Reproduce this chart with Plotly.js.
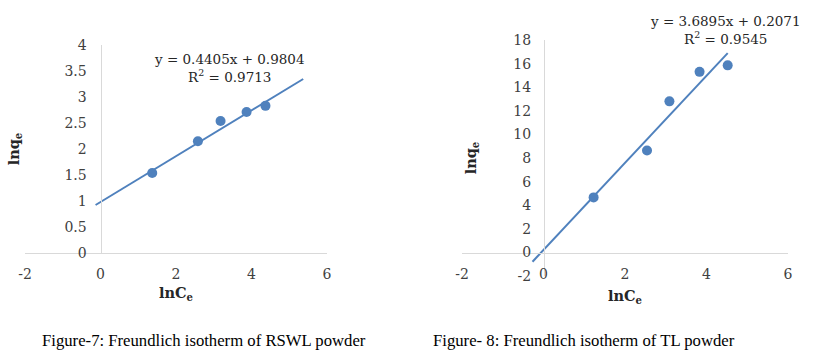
<!DOCTYPE html>
<html>
<head>
<meta charset="utf-8">
<script src="https://cdn.plot.ly/plotly-3.0.1.min.js"></script>
<style>html,body{margin:0;padding:0;background:#fff;}#chart{width:834px;height:357px;}</style>
</head>
<body>
<div id="chart"></div>
<script>
// Figure 7: RSWL powder
const lnCe7 = [1.37, 2.58, 3.18, 3.87, 4.37];
const lnqe7 = [1.54, 2.15, 2.54, 2.71, 2.83];
const slope7 = 0.4405, intercept7 = 0.9804, r2_7 = "0.9713";
const trendX7 = [-0.13, 5.37];

// Figure 8: TL powder
const lnCe8 = [1.23, 2.54, 3.09, 3.83, 4.52];
const lnqe8 = [4.66, 8.64, 12.8, 15.3, 15.85];
const slope8 = 3.6895, intercept8 = 0.2071, r2_8 = "0.9545";
const trendX8 = [-0.27, 4.52];

// Tick labels (hyphen minus as in the reference)
const xTickVals = [-2, 0, 2, 4, 6];
const xTickText = ["-2", "0", "2", "4", "6"];
const y7TickVals = [0, 0.5, 1, 1.5, 2, 2.5, 3, 3.5, 4];
const y7TickText = ["0", "0.5", "1", "1.5", "2", "2.5", "3", "3.5", "4"];
const y8TickVals = [-2, 0, 2, 4, 6, 8, 10, 12, 14, 16, 18];
const y8TickText = ["-2", "0", "2", "4", "6", "8", "10", "12", "14", "16", "18"];

const captions = ["Figure-7: Freundlich isotherm of RSWL powder", "Figure- 8: Freundlich isotherm of TL powder"];

const blue = '#4F81BD';
const tickFont = {family: 'DejaVu Serif', size: 14, color: '#404040'};
const titleFont = {family: 'DejaVu Serif', size: 14.5, color: '#262626'};
const W = 834, H = 357;

const trendY7 = trendX7.map(x => slope7 * x + intercept7);
const trendY8 = trendX8.map(x => slope8 * x + intercept8);

const data = [
  {x: trendX7, y: trendY7, type: 'scatter', mode: 'lines', line: {color: blue, width: 2}, xaxis: 'x', yaxis: 'y', hoverinfo: 'skip'},
  {x: lnCe7, y: lnqe7, type: 'scatter', mode: 'markers', marker: {color: blue, size: 10}, xaxis: 'x', yaxis: 'y'},
  {x: trendX8, y: trendY8, type: 'scatter', mode: 'lines', line: {color: blue, width: 2}, xaxis: 'x2', yaxis: 'y2', hoverinfo: 'skip'},
  {x: lnCe8, y: lnqe8, type: 'scatter', mode: 'markers', marker: {color: blue, size: 10}, xaxis: 'x2', yaxis: 'y2'}
];

const axBase = {showgrid: false, zeroline: false, ticks: '', tickfont: tickFont, showline: true, linecolor: '#d9d9d9', linewidth: 1, fixedrange: true, tickmode: 'array'};

const layout = {
  width: W, height: H,
  margin: {l: 0, r: 0, t: 0, b: 0},
  paper_bgcolor: '#fff', plot_bgcolor: '#fff',
  showlegend: false,
  xaxis: Object.assign({}, axBase, {
    domain: [25/W, 327/W], range: [-2, 6], tickvals: xTickVals, ticktext: xTickText, anchor: 'y', ticklabelstandoff: 8,
    title: {text: '<b>lnC<sub>e</sub></b>', font: titleFont, standoff: 7}
  }),
  yaxis: Object.assign({}, axBase, {
    domain: [1 - 253/H, 1 - 45/H], range: [0, 4], tickvals: y7TickVals, ticktext: y7TickText, anchor: 'free', position: 100.5/W,
    ticklabelstandoff: 11,
    title: {text: '<b>lnq<sub>e</sub></b>', font: titleFont, standoff: 40}
  }),
  xaxis2: Object.assign({}, axBase, {
    domain: [462/W, 788/W], range: [-2, 6], tickvals: xTickVals, ticktext: xTickText, anchor: 'free', position: 1 - 252.7/H,
    ticklabelstandoff: 8,
    title: {text: '<b>lnC<sub>e</sub></b>', font: titleFont, standoff: 10}
  }),
  yaxis2: Object.assign({}, axBase, {
    domain: [1 - 276/H, 1 - 40/H], range: [-2, 18], tickvals: y8TickVals, ticktext: y8TickText, anchor: 'free', position: 544/W,
    ticklabelstandoff: 10,
    title: {text: '<b>lnq<sub>e</sub></b>', font: titleFont, standoff: 32}
  }),
  annotations: [
    {xref: 'x', yref: 'paper', x: 3.43, y: 1 - 67.5/H, text: 'y = ' + slope7 + 'x + ' + intercept7 + '<br>R<sup>2</sup> = ' + r2_7,
     showarrow: false, align: 'center', xanchor: 'center', yanchor: 'middle', font: {family: 'DejaVu Serif', size: 13.5, color: '#262626'}},
    {xref: 'x2', yref: 'paper', x: 4.46, y: 1 - 30/H, text: 'y = ' + slope8 + 'x + ' + intercept8 + '<br>R<sup>2</sup> = ' + r2_8,
     showarrow: false, align: 'center', xanchor: 'center', yanchor: 'middle', font: {family: 'DejaVu Serif', size: 13.5, color: '#262626'}},
    {xref: 'paper', yref: 'paper', x: 40/W, y: 1 - 340/H, text: captions[0], showarrow: false, xanchor: 'left', yanchor: 'middle',
     font: {family: 'Liberation Serif', size: 16.7, color: '#000'}},
    {xref: 'paper', yref: 'paper', x: 431/W, y: 1 - 340/H, text: captions[1], showarrow: false, xanchor: 'left', yanchor: 'middle',
     font: {family: 'Liberation Serif', size: 16.7, color: '#000'}}
  ]
};

Plotly.newPlot('chart', data, layout, {staticPlot: true, displayModeBar: false});
</script>
</body>
</html>
